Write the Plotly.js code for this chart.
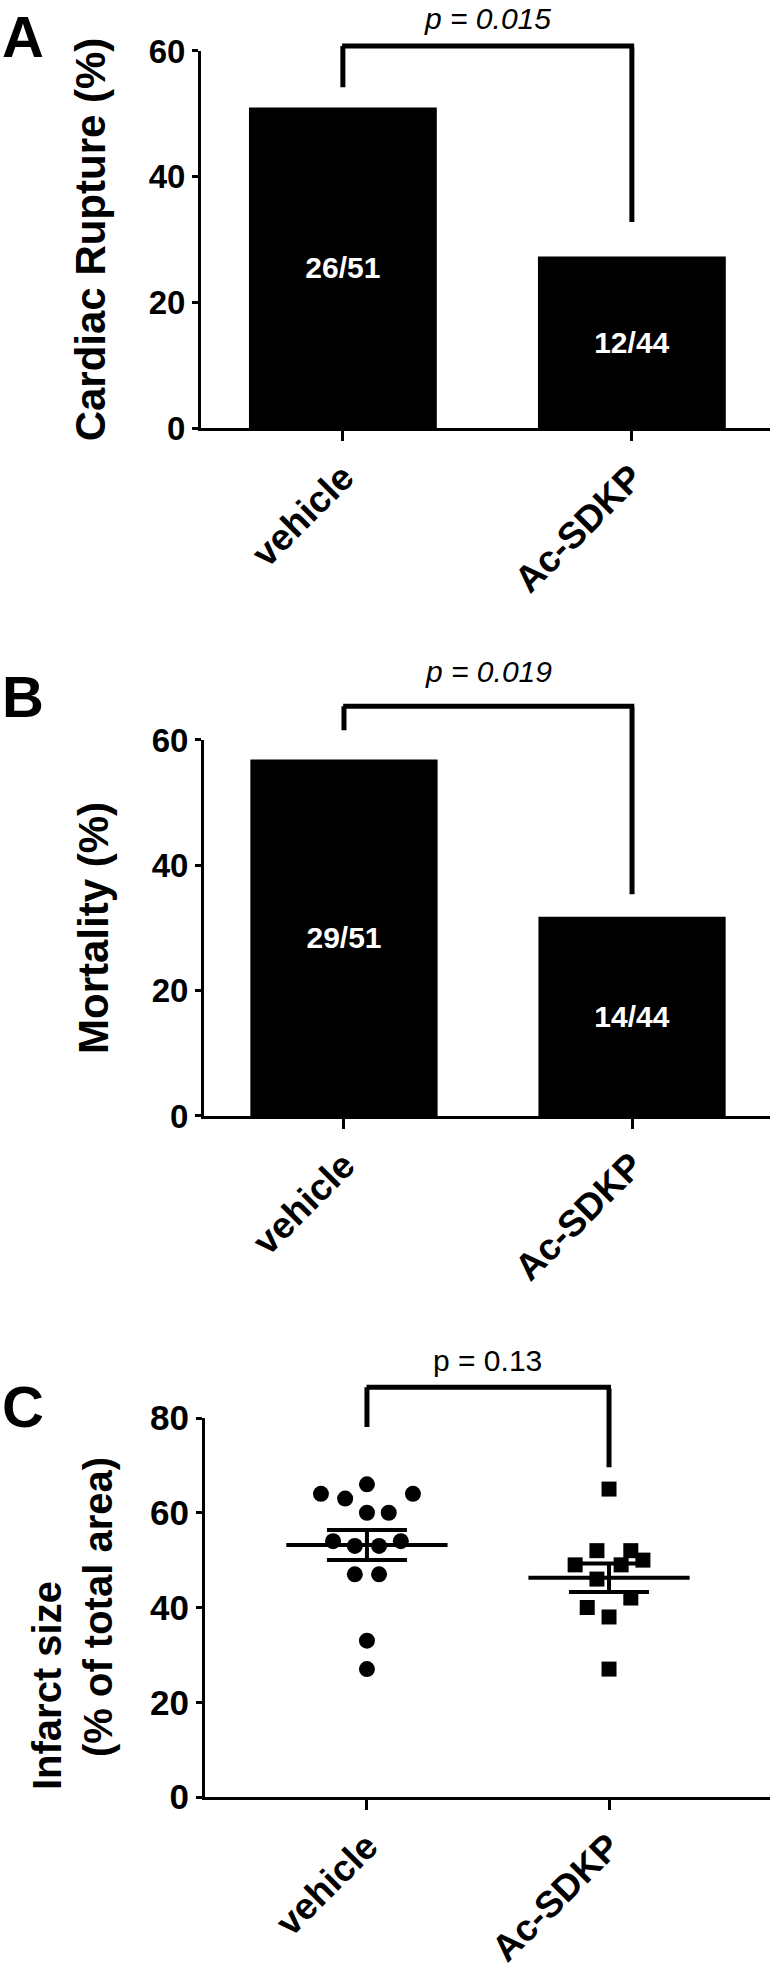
<!DOCTYPE html>
<html>
<head>
<meta charset="utf-8">
<script src="https://cdn.plot.ly/plotly-3.0.1.min.js"></script>
<style>
  body { margin: 0; background: #fff; }
  #chart { width: 775px; height: 1972px; }
</style>
</head>
<body>
<div id="chart"></div>
<script>
// groups shared by the three panels
const groups = ['vehicle', 'Ac-SDKP'];

// A: cardiac rupture (%), with counts printed in the bars
const ruptureCounts = ['26/51', '12/44'];
const rupturePct = [51.0, 27.3];

// B: mortality (%)
const mortalityCounts = ['29/51', '14/44'];
const mortalityPct = [56.9, 31.8];

// C: infarct size per animal, jitter = horizontal spread inside the column
const vehicleInfarct = [64, 63, 66, 64, 60, 60, 54, 53, 53, 54, 47, 47, 33, 27];
const vehicleJitter = [-0.19, -0.09, 0, 0.19, 0, 0.09, -0.14, -0.05, 0.05, 0.14, -0.05, 0.05, 0, 0];
const sdkpInfarct = [65, 52, 52, 49, 49, 50, 46, 42, 40, 38, 27];
const sdkpJitter = [0, -0.05, 0.09, -0.14, 0.05, 0.14, -0.05, 0.09, -0.09, 0, 0];
const infarctMean = [53.2, 46.3];
const infarctSem = [3.15, 3.0];

// p values above the brackets
const pValues = ['p = 0.015', 'p = 0.019', 'p = 0.13'];

const FONT = 'Liberation Sans, Arial, Helvetica, sans-serif';
const black = '#000';

const traces = [
	{
		type: 'bar', x: [0, 1], y: rupturePct, text: ruptureCounts,
		xaxis: 'x', yaxis: 'y', width: 0.65,
		marker: { color: black },
		textposition: 'inside', insidetextanchor: 'middle', textangle: 0, constraintext: 'none',
		textfont: { family: FONT, size: 30, color: '#fff', weight: 'bold' },
		hoverinfo: 'none'
	},
	{
		type: 'bar', x: [0, 1], y: mortalityPct, text: mortalityCounts,
		xaxis: 'x2', yaxis: 'y2', width: 0.65,
		marker: { color: black },
		textposition: 'inside', insidetextanchor: 'middle', textangle: 0, constraintext: 'none',
		textfont: { family: FONT, size: 30, color: '#fff', weight: 'bold' },
		hoverinfo: 'none'
	},
	{
		type: 'scatter', mode: 'markers', xaxis: 'x3', yaxis: 'y3',
		x: vehicleJitter.map(d => 0 + d), y: vehicleInfarct,
		marker: { symbol: 'circle', size: 16, color: black }
	},
	{
		type: 'scatter', mode: 'markers', xaxis: 'x3', yaxis: 'y3',
		x: sdkpJitter.map(d => 1 + d), y: sdkpInfarct,
		marker: { symbol: 'square', size: 15, color: black }
	},
	// mean lines
	{
		type: 'scatter', mode: 'lines', xaxis: 'x3', yaxis: 'y3',
		x: [-0.333, 0.333, null, 0.667, 1.333],
		y: [infarctMean[0], infarctMean[0], null, infarctMean[1], infarctMean[1]],
		line: { color: black, width: 4 }
	},
	// SEM bars
	{
		type: 'scatter', mode: 'markers', xaxis: 'x3', yaxis: 'y3',
		x: [0, 1], y: infarctMean,
		marker: { size: 1, color: 'rgba(0,0,0,0)' },
		error_y: { type: 'data', array: infarctSem, visible: true, width: 40, thickness: 4, color: black }
	}
];

function xAxis(domain, range, anchor) {
	return {
		domain: domain, range: range, anchor: anchor,
		tickvals: [0, 1], ticktext: groups, tickangle: -45,
		ticks: 'outside', ticklen: 10, tickwidth: 3, tickcolor: black,
		showline: true, linewidth: 3, linecolor: black,
		showgrid: false, zeroline: false,
		tickfont: { family: FONT, size: 37, color: black, weight: 'bold' }
	};
}

function yAxis(domain, range, tickvals, anchor, title, fontSize) {
	return {
		domain: domain, range: range, anchor: anchor, tickvals: tickvals,
		ticks: 'outside', ticklen: 6, tickwidth: 3, tickcolor: black,
		showline: true, linewidth: 3, linecolor: black,
		showgrid: false, zeroline: false,
		tickfont: { family: FONT, size: fontSize, color: black, weight: 'bold' },
		title: title ? { text: title, standoff: 30, font: { family: FONT, size: 42, color: black, weight: 'bold' } } : undefined
	};
}

// bracket geometry in each panel's y units: top, left foot, right foot, p text height
const brackets = [
	{ x: 'x', y: 'y', ymax: 60, top: 60.8, left: 54.0, right: 32.8, text: 65.1, italic: true },
	{ x: 'x2', y: 'y2', ymax: 60, top: 65.4, left: 61.3, right: 35.4, text: 70.9, italic: true },
	{ x: 'x3', y: 'y3', ymax: 80, top: 86.5, left: 77.8, right: 69.6, text: 92.2, italic: false }
];

const annotations = [];
// y given as a fraction of the axis domain so the bracket may sit above the range
function segment(b, x0, y0, x1, y1) {
	const yr = b.y + ' domain';
	annotations.push({
		xref: b.x, yref: yr, axref: b.x, ayref: yr,
		x: x1, y: y1 / b.ymax, ax: x0, ay: y0 / b.ymax, text: '', font: { size: 1 },
		showarrow: true, arrowhead: 0, arrowwidth: 5, arrowcolor: black,
		standoff: 0, startstandoff: 0
	});
}
brackets.forEach((b, i) => {
	segment(b, 0, b.left, 0, b.top);
	segment(b, -0.008, b.top, 1.008, b.top);
	segment(b, 1, b.top, 1, b.right);
	annotations.push({
		xref: b.x, yref: b.y + ' domain', x: 0.5, y: b.text / b.ymax,
		xanchor: 'center', yanchor: 'middle', showarrow: false,
		text: b.italic ? '<i>' + pValues[i] + '</i>' : pValues[i],
		font: { family: FONT, size: 30, color: black }
	});
});

// panel letters
[['A', 0.98174], ['B', 0.6466], ['C', 0.2870]].forEach(([t, y]) => {
	annotations.push({
		xref: 'paper', yref: 'paper', x: 0, y: y, xanchor: 'left', yanchor: 'middle',
		text: t, showarrow: false,
		font: { family: FONT, size: 58, color: black, weight: 'bold' }
	});
});

// two-line title of panel C, the lines are not centred on each other
annotations.push({
	xref: 'paper', yref: 'paper', x: 0.0606, y: 0.1455, xanchor: 'center', yanchor: 'middle',
	textangle: -90, showarrow: false,
	text: 'Infarct size', font: { family: FONT, size: 40, color: black, weight: 'bold' }
});
annotations.push({
	xref: 'paper', yref: 'paper', x: 0.1265, y: 0.1851, xanchor: 'center', yanchor: 'middle',
	textangle: -90, showarrow: false,
	text: '(% of total area)', font: { family: FONT, size: 40, color: black, weight: 'bold' }
});

const layout = {
	width: 775, height: 1972,
	margin: { l: 0, r: 0, t: 0, b: 0 },
	paper_bgcolor: '#fff', plot_bgcolor: '#fff',
	showlegend: false,
	xaxis: xAxis([201 / 775, 770 / 775], [-0.491, 1.478], 'y'),
	yaxis: yAxis([0.78296, 0.97414], [0, 60], [0, 20, 40, 60], 'x', 'Cardiac Rupture (%)', 33),
	xaxis2: xAxis([204 / 775, 770 / 775], [-0.486, 1.479], 'y2'),
	yaxis2: yAxis([0.43408, 0.62475], [0, 60], [0, 20, 40, 60], 'x2', 'Mortality (%)', 33),
	xaxis3: xAxis([205 / 775, 770 / 775], [-0.669, 1.665], 'y3'),
	yaxis3: yAxis([0.08874, 0.28093], [0, 80], [0, 20, 40, 60, 80], 'x3', null, 35),
	annotations: annotations
};

Plotly.newPlot('chart', traces, layout, { staticPlot: true });
</script>
</body>
</html>
